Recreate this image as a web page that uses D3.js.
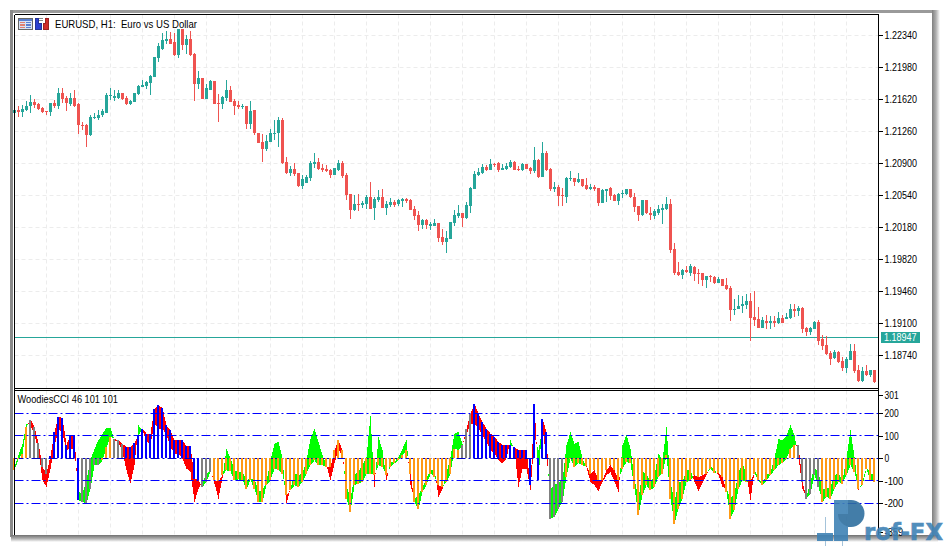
<!DOCTYPE html>
<html><head><meta charset="utf-8">
<script src="https://d3js.org/d3.v7.min.js"></script>
<style>html,body{margin:0;padding:0;background:#fff;overflow:hidden}svg{display:block}text{font-family:"Liberation Sans",Arial,sans-serif}</style>
</head><body><svg id="c" width="944" height="546"></svg>
<script>
// EURUSD H1, in units of 0.0001
const opens=[12147,12150,12148,12150,12155,12159,12157,12153,12149,12148,
12158,12155,12169,12164,12157,12164,12157,12133,12133,12122,
12141,12141,12145,12147,12166,12164,12164,12170,12164,12157,
12159,12168,12176,12177,12181,12187,12209,12219,12228,12230,
12227,12212,12242,12223,12230,12213,12180,12186,12163,12173,
12183,12158,12157,12164,12173,12160,12156,12154,12155,12135,
12150,12125,12114,12106,12114,12123,12124,12139,12092,12079,
12084,12079,12065,12068,12074,12090,12092,12085,12084,12083,
12077,12083,12091,12077,12056,12038,12045,12043,12045,12053,
12040,12049,12053,12040,12043,12047,12045,12048,12050,12049,
12039,12032,12021,12027,12020,12020,12023,12007,12002,12005,
12023,12031,12034,12029,12042,12061,12077,12079,12086,12083,
12090,12091,12083,12084,12086,12092,12084,12083,12090,12085,
12082,12094,12075,12102,12084,12061,12064,12055,12052,12073,
12074,12069,12073,12066,12061,12064,12063,12046,12059,12063,
12055,12048,12056,12056,12062,12053,12042,12032,12049,12035,
12031,12035,12038,12039,12045,11994,11968,11965,11970,11967,
11974,11967,11967,11959,11964,11962,11956,11960,11953,11950,
11925,11926,11930,11931,11935,11917,11915,11905,11913,11911,
11913,11911,11916,11915,11916,11926,11924,11928,11905,11901,
11904,11912,11893,11886,11877,11871,11878,11868,11860,11869,
11879,11858,11846,11857,11852,11858];
const closes=[12150,12148,12151,12155,12159,12156,12151,12148,12148,12158,
12155,12169,12163,12158,12164,12155,12133,12132,12122,12142,
12142,12145,12149,12167,12167,12166,12170,12163,12157,12160,
12169,12177,12178,12182,12189,12210,12222,12229,12230,12225,
12212,12242,12223,12230,12212,12180,12186,12163,12175,12183,
12157,12157,12165,12173,12159,12155,12154,12155,12135,12149,
12124,12113,12106,12115,12124,12125,12139,12091,12079,12084,
12078,12065,12073,12075,12091,12092,12084,12083,12082,12077,
12085,12091,12076,12055,12038,12045,12043,12046,12053,12039,
12050,12053,12040,12045,12047,12043,12049,12050,12048,12038,
12031,12021,12027,12021,12022,12023,12006,12002,12006,12024,
12032,12034,12029,12043,12063,12078,12081,12086,12083,12090,
12089,12083,12085,12087,12092,12083,12083,12090,12084,12082,
12094,12075,12102,12083,12061,12064,12054,12054,12074,12074,
12069,12073,12065,12061,12064,12061,12046,12060,12062,12054,
12048,12056,12057,12062,12052,12041,12032,12049,12034,12032,
12037,12039,12040,12045,11993,11967,11965,11970,11968,11975,
11966,11966,11959,11964,11962,11956,11960,11952,11949,11925,
11927,11930,11932,11935,11916,11914,11905,11914,11911,11913,
11911,11916,11911,11918,11926,11924,11928,11904,11901,11905,
11912,11890,11885,11876,11870,11878,11867,11860,11870,11879,
11857,11846,11857,11852,11858,11844];
const highs=[12152,12155,12156,12160,12167,12163,12158,12154,12149,12158,
12162,12175,12175,12166,12170,12173,12158,12137,12135,12145,
12147,12150,12151,12169,12175,12173,12173,12170,12166,12162,
12170,12178,12184,12183,12190,12210,12226,12237,12239,12238,
12237,12242,12242,12235,12239,12214,12194,12186,12180,12184,
12183,12168,12166,12184,12177,12163,12160,12157,12155,12160,
12150,12125,12123,12122,12129,12139,12142,12141,12097,12087,
12091,12080,12077,12077,12093,12102,12096,12090,12088,12084,
12085,12094,12093,12079,12056,12055,12056,12048,12055,12069,
12053,12060,12061,12048,12051,12049,12050,12051,12051,12050,
12042,12037,12028,12028,12024,12028,12023,12016,12014,12024,
12038,12043,12034,12047,12064,12082,12085,12090,12088,12095,
12091,12092,12090,12091,12094,12093,12087,12091,12090,12086,
12109,12095,12114,12104,12085,12069,12066,12063,12075,12082,
12074,12079,12073,12074,12067,12066,12063,12062,12062,12064,
12056,12057,12060,12062,12062,12057,12042,12049,12049,12041,
12039,12043,12045,12053,12050,12001,11979,11972,11975,11977,
11975,11972,11967,11964,11965,11964,11962,11960,11961,11952,
11938,11942,11941,11943,11945,11947,11929,11917,11920,11919,
11919,11923,11920,11922,11932,11932,11930,11929,11906,11906,
11913,11914,11897,11896,11879,11880,11879,11872,11873,11887,
11887,11863,11861,11863,11858,11858];
const lows=[12146,12143,12142,12149,12147,12153,12150,12147,12145,12144,
12153,12152,12158,12149,12155,12154,12123,12128,12109,12121,
12140,12139,12143,12147,12162,12161,12163,12162,12156,12156,
12159,12167,12176,12174,12167,12187,12204,12218,12225,12225,
12211,12209,12218,12213,12211,12161,12174,12163,12163,12173,
12157,12137,12151,12160,12159,12145,12151,12151,12129,12129,
12122,12113,12092,12104,12114,12117,12109,12090,12078,12076,
12076,12064,12061,12068,12070,12085,12083,12081,12081,12074,
12077,12082,12074,12049,12028,12037,12037,12040,12039,12039,
12027,12047,12040,12032,12041,12041,12042,12041,12046,12038,
12027,12014,12017,12017,12015,12020,12002,11998,11990,12005,
12020,12029,12019,12028,12034,12061,12076,12078,12082,12083,
12086,12081,12083,12083,12085,12083,12082,12082,12084,12078,
12079,12074,12075,12082,12059,12058,12042,12042,12046,12070,
12065,12068,12064,12060,12060,12059,12042,12046,12047,12049,
12048,12044,12051,12055,12051,12036,12026,12031,12033,12027,
12028,12032,12022,12038,11989,11965,11964,11960,11967,11964,
11958,11955,11952,11950,11957,11955,11956,11952,11948,11913,
11920,11926,11922,11926,11891,11907,11905,11905,11904,11904,
11906,11910,11911,11915,11915,11917,11919,11899,11896,11897,
11904,11886,11880,11875,11863,11870,11866,11857,11855,11869,
11855,11844,11844,11851,11850,11843];
const cciBars=[-53,-4,21,139,172,139,70,-38,-68,10,
117,184,179,61,102,102,-186,-194,-201,-135,
-31,-31,-9,50,95,87,80,65,50,50,
70,102,132,110,110,221,236,224,147,124,
80,80,80,55,55,-90,-98,-127,-105,-61,
-98,-102,-75,-53,-58,-98,-93,-98,-135,-98,
-135,-194,-194,-120,-98,-46,-53,-68,-164,-142,
-120,-127,-105,-68,-31,-9,-31,-31,-38,-38,
36,80,36,-179,-238,-120,-112,-105,-68,-68,
-75,-31,-38,-75,-38,-23,-9,13,36,-68,
-194,-227,-149,-120,-68,-83,-120,-127,-105,-68,
43,36,58,132,199,243,199,161,132,110,
95,73,61,61,58,50,36,36,36,-120,
243,-98,176,117,-268,-261,-224,-194,-83,-1,
-38,-23,-31,-36,-68,-53,-98,-98,-53,-31,
-53,-98,-46,-16,-23,-135,-253,-164,-120,-142,
-127,-83,-68,13,-179,-290,-224,-179,-105,-98,
-75,-83,-75,-68,-46,-64,-64,-83,-149,-268,
-231,-135,-98,-105,-98,-68,-98,-120,-98,-75,
-53,-31,-20,-1,43,58,58,-105,-179,-157,
-75,-127,-194,-172,-179,-135,-105,-112,-75,-31,
-61,-135,-120,-46,-98,-105];
const turbo=[-39,13,65,154,147,102,36,-98,-127,-46,
50,132,110,36,43,36,-149,-157,-98,-9,
43,80,110,135,136,80,70,28,-53,-112,
-31,147,124,73,65,154,132,132,102,50,
21,21,-1,-46,-61,-194,-135,-105,-68,-53,
-112,-179,-90,43,-1,-53,-61,-58,-98,-90,
-90,-149,-142,-105,-9,65,73,-1,-201,-135,
-68,-75,-68,-9,87,132,73,13,-31,-98,
-23,43,6,-120,-179,-75,-58,-31,6,188,
-127,95,36,-98,-16,-16,6,43,83,-120,
-179,-164,-127,-90,-53,-49,-172,-135,-68,6,
110,117,65,102,154,154,132,102,73,36,
21,-9,-23,-1,80,36,-127,-46,-46,-142,
95,36,132,-1,-135,-120,-105,-98,58,117,
65,73,-1,-40,-105,-120,-146,-105,-75,-61,
-105,-149,58,105,43,-90,-179,-61,-68,-105,
-75,21,-9,139,-105,-194,-105,-105,-53,-53,
-105,-145,-112,-75,-31,-53,-75,-127,-135,-179,
-157,-61,-23,-68,-186,-53,-90,-112,-75,-61,
-1,87,80,102,147,102,6,-135,-172,-105,
-38,-68,-135,-135,-127,-75,-68,-98,-1,124,
6,-142,-105,-38,-68,-75];
// first bar index of each run of one histogram colour
const barRuns=[[0,"trend"],[4,"flat"],[9,"up"],[17,"flat"],[22,"trend"],[25,"flat"],[28,"up"],[47,"flat"],[50,"trend"],[112,"flat"],[115,"up"],[134,"flat"],[138,"trend"],[196,"flat"],[202,"trend"]];
const priceTicks=[1.2234,1.2198,1.2162,1.2126,1.209,1.2054,1.2018,1.1982,1.1946,1.191,1.1874];
const cciLevels=[200,100,-100,-200];
const cciTicks=[301,200,100,0,-100,-200,-359];
const lastPrice=1.18947;
const titleMain="EURUSD, H1:  Euro vs US Dollar";
const titleSub="WoodiesCCI 46 101 101";

const TEAL="#26a69a",RED="#ef5350",GRID="#ececec";
const barColor={trend:"#ff9a14",flat:"#808080",up:"#0000ff"};
const svg=d3.select("#c");
const L=14.5,R=878.5,T=14.5,B=388.5,T2=390.5,B2=535;

// window frame
svg.append("rect").attr("x",10).attr("y",10).attr("width",924).attr("height",3).attr("fill","#9a9a9a");
svg.append("rect").attr("x",10).attr("y",10).attr("width",3).attr("height",527).attr("fill","#8a8a8a");
const grad=svg.append("defs");
const gr=grad.append("linearGradient").attr("id","sr");
gr.append("stop").attr("offset",0).attr("stop-color","#7f7f7f");
gr.append("stop").attr("offset",.5).attr("stop-color","#b0b0b0");
gr.append("stop").attr("offset",1).attr("stop-color","#ffffff");
const gb=grad.append("linearGradient").attr("id","sb").attr("x1",0).attr("x2",0).attr("y1",0).attr("y2",1);
gb.append("stop").attr("offset",0).attr("stop-color","#6f6f6f");
gb.append("stop").attr("offset",.5).attr("stop-color","#adadad");
gb.append("stop").attr("offset",1).attr("stop-color","#ffffff");
svg.append("rect").attr("x",932).attr("y",10).attr("width",8).attr("height",526).attr("fill","url(#sr)");
svg.append("rect").attr("x",11).attr("y",535).attr("width",927).attr("height",7).attr("fill","url(#sb)");

const x=d3.scaleLinear().domain([0,215]).range([15,875]);
const yP=d3.scaleLinear().domain([1.1874,1.2234]).range([355.67,35.67]);
const yC=d3.scaleLinear().domain([-200,200]).range([503.3,413.3]);
const rowP=d=>Math.floor(yP(d))+.5;

const candles=d3.range(opens.length).map(i=>({i,o:opens[i]/1e4,c:closes[i]/1e4,h:highs[i]/1e4,l:lows[i]/1e4}));

// grid
const gridX=d3.range(8,216,8);
const grid=svg.append("g").attr("stroke",GRID).attr("stroke-dasharray","4,3").attr("fill","none");
grid.selectAll("line.v1").data(gridX).join("line").attr("class","v1").attr("x1",d=>x(d)-.5).attr("x2",d=>x(d)-.5).attr("y1",T).attr("y2",B);
grid.selectAll("line.v2").data(gridX).join("line").attr("class","v2").attr("x1",d=>x(d)-.5).attr("x2",d=>x(d)-.5).attr("y1",T2).attr("y2",B2);
grid.selectAll("line.h").data(priceTicks).join("line").attr("class","h").attr("x1",L).attr("x2",R).attr("y1",rowP).attr("y2",rowP);

// price line
svg.append("line").attr("x1",L).attr("x2",R).attr("y1",rowP(lastPrice)).attr("y2",rowP(lastPrice)).attr("stroke",TEAL);

// candles
const cg=svg.append("g").attr("shape-rendering","crispEdges");
cg.selectAll("rect.w").data(candles).join("rect").attr("class","w")
 .attr("x",d=>x(d.i)-1).attr("width",1).attr("y",d=>yP(d.h)).attr("height",d=>Math.max(1,yP(d.l)-yP(d.h)))
 .attr("fill",d=>d.c>=d.o?TEAL:RED);
cg.selectAll("rect.b").data(candles).join("rect").attr("class","b")
 .attr("x",d=>x(d.i)-2).attr("width",3).attr("y",d=>yP(Math.max(d.o,d.c))).attr("height",d=>Math.max(1,Math.abs(yP(d.o)-yP(d.c))))
 .attr("fill",d=>d.c>=d.o?TEAL:RED);

// indicator fill: two areas meeting where the two lines cross
const pts=[];
cciBars.forEach((a,i)=>{
  const b=turbo[i]; pts.push({t:i,a,b});
  if(i<cciBars.length-1){const a2=cciBars[i+1],b2=turbo[i+1],d1=b-a,d2=b2-a2;
    if(d1*d2<0){const f=d1/(d1-d2);const v=a+f*(a2-a);pts.push({t:i+f,a:v,b:v});}}
});
const areaG=d3.area().x(d=>x(d.t)-.5).y0(d=>yC(d.a)).y1(d=>yC(Math.max(d.a,d.b)));
const areaR=d3.area().x(d=>x(d.t)-.5).y0(d=>yC(d.a)).y1(d=>yC(Math.min(d.a,d.b)));
svg.append("path").attr("d",areaG(pts)).attr("fill","#00ff00").attr("shape-rendering","crispEdges");
svg.append("path").attr("d",areaR(pts)).attr("fill","#ff0000").attr("shape-rendering","crispEdges");

// zero level under the bars
const dash="9,3,2,3";
svg.append("line").attr("x1",L).attr("x2",R).attr("y1",Math.round(yC(0))+.5).attr("y2",Math.round(yC(0))+.5).attr("stroke","#0000c8").attr("stroke-dasharray",dash);

// histogram
const kindOf=i=>{let k="trend";for(const [s,n] of barRuns){if(i>=s)k=n;}return k;};
svg.append("g").attr("shape-rendering","crispEdges").selectAll("rect").data(cciBars).join("rect")
 .attr("x",(d,i)=>x(i)-2).attr("width",2)
 .attr("y",d=>Math.min(yC(0),yC(d))).attr("height",d=>Math.abs(yC(d)-yC(0)))
 .attr("fill",(d,i)=>barColor[kindOf(i)]);

// levels
svg.append("g").selectAll("line").data(cciLevels).join("line")
 .attr("x1",L).attr("x2",R).attr("y1",d=>Math.floor(yC(d))+.5).attr("y2",d=>Math.floor(yC(d))+.5)
 .attr("stroke","#0000ff").attr("stroke-dasharray",dash);

// frame lines
const fr=svg.append("g").attr("stroke","#000").attr("fill","none").attr("shape-rendering","crispEdges");
fr.append("line").attr("x1",L).attr("x2",R).attr("y1",T).attr("y2",T);
fr.append("line").attr("x1",L).attr("x2",L).attr("y1",T).attr("y2",B2);
fr.append("line").attr("x1",R).attr("x2",R).attr("y1",T).attr("y2",B2);
fr.append("line").attr("x1",L).attr("x2",R).attr("y1",B).attr("y2",B);
fr.append("line").attr("x1",L).attr("x2",R).attr("y1",T2).attr("y2",T2);

// right axes
const fmt=d3.format(".5f");
const axM=svg.append("g").selectAll("g").data(priceTicks).join("g").attr("transform",d=>`translate(0,${rowP(d)})`);
axM.append("line").attr("x1",R).attr("x2",883).attr("stroke","#000").attr("shape-rendering","crispEdges");
axM.append("text").attr("x",884.5).attr("dy","0.33em").attr("font-size",10).attr("fill","#000")
 .attr("textLength",32.5).attr("lengthAdjust","spacingAndGlyphs").text(d=>fmt(d));
const axC=svg.append("g").selectAll("g").data(cciTicks).join("g")
 .attr("transform",d=>`translate(0,${Math.round(Math.max(395,Math.min(532,yC(d))))+.5})`);
axC.append("line").attr("x1",R).attr("x2",883).attr("stroke","#000").attr("shape-rendering","crispEdges");
axC.append("text").attr("x",884.5).attr("dy","0.33em").attr("font-size",10).attr("fill","#000")
 .attr("textLength",d=>String(d).length*4.7).attr("lengthAdjust","spacingAndGlyphs").text(d=>d);

// last price label
svg.append("rect").attr("x",881).attr("y",332).attr("width",39).attr("height",11).attr("fill",TEAL);
svg.append("text").attr("x",884).attr("y",yP(lastPrice)+.5).attr("dy","0.33em").attr("font-size",10).attr("fill","#fff")
 .attr("textLength",32.5).attr("lengthAdjust","spacingAndGlyphs").text(fmt(lastPrice));

// titles
svg.append("text").attr("x",55).attr("y",24.5).attr("dy","0.35em").attr("font-size",10.3).attr("fill","#000").style("white-space","pre")
 .attr("textLength",142).attr("lengthAdjust","spacingAndGlyphs").text(titleMain);
svg.append("text").attr("x",17.5).attr("y",399.5).attr("dy","0.35em").attr("font-size",10.3).attr("fill","#000")
 .attr("textLength",100.5).attr("lengthAdjust","spacingAndGlyphs").text(titleSub);

// toolbar icons
const ic=svg.append("g").attr("shape-rendering","crispEdges");
ic.append("rect").attr("x",18.5).attr("y",18.5).attr("width",14).attr("height",11).attr("fill","#d8e2f4").attr("stroke","#666");
ic.append("rect").attr("x",19).attr("y",19).attr("width",13).attr("height",2).attr("fill","#5a7fd0");
d3.range(3).forEach(k=>{
 ic.append("rect").attr("x",20).attr("y",22+k*2.4).attr("width",5).attr("height",1.4).attr("fill","#e08070");
 ic.append("rect").attr("x",26).attr("y",22+k*2.4).attr("width",5).attr("height",1.4).attr("fill","#5a7fd0");
});
ic.append("path").attr("d","M35.5 18.5h3v5h3v6h-6z").attr("fill","#2a3fd0").attr("stroke","#223399");
ic.append("path").attr("d","M43.5 23.5h2v-5h3v11h-5z").attr("fill","#d02a2a").attr("stroke","#992222");
ic.append("rect").attr("x",39).attr("y",18).attr("width",4).attr("height",1).attr("fill","#888");
ic.append("rect").attr("x",39).attr("y",20).attr("width",4).attr("height",1).attr("fill","#888");

// watermark
const wm=svg.append("g").attr("opacity",.9);
wm.append("rect").attr("x",825).attr("y",517).attr("width",1).attr("height",29).attr("fill","#9bbdd6");
wm.append("rect").attr("x",842).attr("y",500).attr("width",1).attr("height",46).attr("fill","#9bbdd6");
wm.append("rect").attr("x",817).attr("y",533).attr("width",16).attr("height",8).attr("fill","#3f82b5");
wm.append("rect").attr("x",834).attr("y",500).attr("width",14).attr("height",41).attr("fill","#3f82b5");
wm.append("path").attr("d","M848 500h3a13.5 13.5 0 0 1 0 27h-3z").attr("fill","#2f6f9f");
wm.append("path").attr("d","M838 514h12v13a14 13 0 0 1-12-13z").attr("fill","#2f6f9f");
wm.append("text").attr("x",864).attr("y",540).attr("font-size",23).attr("font-weight","bold").attr("fill","#3f82b5").attr("stroke","#3f82b5").attr("stroke-width",.6).attr("textLength",79).attr("lengthAdjust","spacingAndGlyphs").style("font-family","'DejaVu Sans'").text("rof-FX");
</script></body></html>
